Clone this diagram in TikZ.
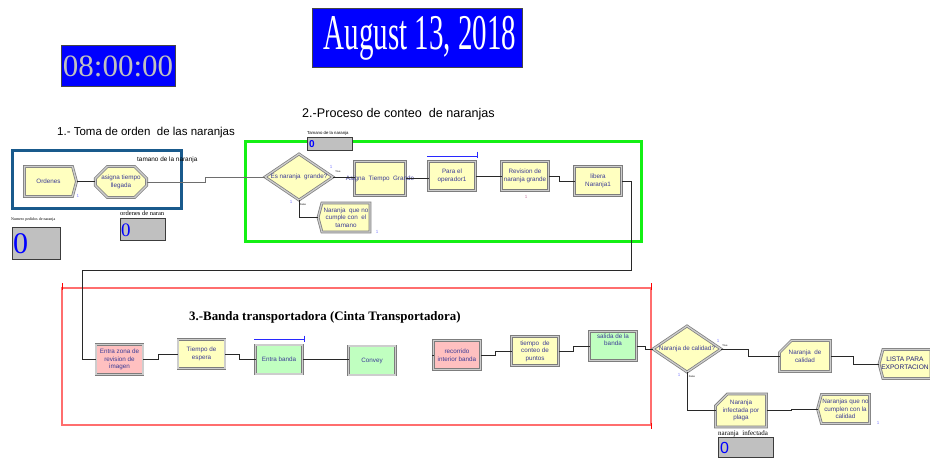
\documentclass[tikz,border=0pt]{standalone}
\usepackage{fontspec}
\setmainfont{Liberation Sans}
\newfontfamily\serifF{Liberation Serif}
\usetikzlibrary{shapes.geometric,shapes.misc,shapes.symbols,calc}
\definecolor{modY}{RGB}{255,255,192}
\definecolor{modP}{RGB}{255,192,192}
\definecolor{modG}{RGB}{192,255,192}
\definecolor{modT}{RGB}{60,60,150}
\definecolor{listaT}{RGB}{30,30,120}
\definecolor{modB}{RGB}{125,125,125}
\definecolor{modL}{RGB}{205,205,205}
\definecolor{mark}{RGB}{130,130,255}
\definecolor{markP}{RGB}{200,120,160}
\definecolor{frameB}{RGB}{25,90,140}
\definecolor{frameG}{RGB}{20,240,20}
\definecolor{frameR}{RGB}{255,110,110}
\definecolor{ctrF}{RGB}{192,192,192}
\definecolor{ctrD}{RGB}{60,60,60}
\definecolor{boxD}{RGB}{70,70,70}
\definecolor{clockT}{RGB}{192,192,192}
\definecolor{connC}{RGB}{40,40,40}
\definecolor{connG}{RGB}{110,110,110}
\definecolor{resC}{RGB}{40,40,255}
\tikzset{
  mod/.style={draw=modB, double=modL, double distance=1.3pt, line width=0.75pt,
    inner sep=0pt, outer sep=0pt, font=\fontsize{6.3}{7.6}\selectfont, text=modT, align=center},
  procbox/.style={mod, rectangle, minimum width=47pt, minimum height=29pt},
  octbox/.style={mod, chamfered rectangle, chamfered rectangle xsep=6pt,
    chamfered rectangle ysep=6pt, minimum width=47pt, minimum height=31pt},
  recbox/.style={mod, chamfered rectangle, chamfered rectangle corners=north west,
    chamfered rectangle xsep=6pt, chamfered rectangle ysep=6pt, minimum width=51pt, minimum height=31pt},
  createbox/.style={mod, signal, signal to=east, signal pointer angle=150, minimum width=52pt, minimum height=30pt},
  disposebox/.style={mod, signal, signal to=west, signal pointer angle=150, minimum width=52pt, minimum height=29pt},
  decbox/.style={mod, diamond, minimum width=68pt, minimum height=46pt},
  modlabel/.style={font=\fontsize{6.3}{7.6}\selectfont, text=modT, align=center, inner sep=0pt},
  conn/.style={draw=connC, line width=0.8pt},
  tiny/.style={font=\fontsize{3.2}{4}\selectfont, inner sep=0pt},
  mk/.style={font=\fontsize{4.5}{5}\selectfont, text=mark, inner sep=0pt},
  ctr/.style={draw=ctrD, fill=ctrF, line width=0.8pt, inner sep=0pt},
  resbar/.style={draw=resC, line width=1pt},
}
\begin{document}
\begin{tikzpicture}[x=1pt,y=-1pt]
\useasboundingbox (0,0) rectangle (930,459);
\fill[white] (0,0) rectangle (930,459);

% clock and date
\node[draw=boxD, fill=blue, minimum width=114pt, minimum height=41pt, inner sep=0pt] (clock) at (118,65.5) {};
\node[text=clockT, font=\serifF\fontsize{31}{31}\selectfont, inner sep=0pt] (clockt) at (118,66) {08:00:00};
\node[draw=boxD, fill=blue, minimum width=210pt, minimum height=59pt, inner sep=0pt] (date) at (417,37.5) {};
\node[text=white, font=\serifF\fontsize{50}{50}\selectfont, inner sep=0pt] (datet) at (420,38) {\scalebox{0.58}[1]{August 13, 2018}};

% section titles
\node[anchor=west, font=\fontsize{11.5}{12}\selectfont, inner sep=0pt] (t1) at (57,133) {1.- Toma de orden\ \ de las naranjas};
\node[anchor=west, font=\fontsize{12.6}{13}\selectfont, inner sep=0pt] (t2) at (302,114) {2.-Proceso de conteo\ \ de naranjas};
\node[anchor=west, font=\serifF\bfseries\fontsize{12.9}{13}\selectfont, inner sep=0pt] (t3) at (189,317) {3.-Banda transportadora (Cinta Transportadora)};

% frames
\draw[frameB, line width=3pt] (12,150) rectangle (181,208);
\draw[frameG, line width=3pt] (245,141) rectangle (641,241);
\draw[frameR, line width=1.6pt] (62,288) rectangle (651,425);
\draw[red, line width=0.6pt] (62,283) -- (62,290) (651,283) -- (651,290) (651,423) -- (651,429);

% counters
\node[tiny, anchor=west, font=\serifF\fontsize{4.0}{5}\selectfont] (c1l) at (11,220) {Numero pedidos de naranja};
\node[ctr, minimum width=48pt, minimum height=32pt] (c1) at (36,243) {};
\node[anchor=west, text=blue, font=\serifF\fontsize{30}{30}\selectfont, inner sep=0pt] (c1z) at (13,244) {0};
\node[tiny, anchor=west, font=\serifF\fontsize{6.5}{7}\selectfont] (c2l) at (120,213) {ordenes de naran};
\node[ctr, minimum width=45pt, minimum height=22pt] (c2) at (143,229) {};
\node[anchor=west, text=blue, font=\serifF\fontsize{19}{19}\selectfont, inner sep=0pt] (c2z) at (121,230) {0};
\node[tiny, anchor=west, font=\fontsize{4.3}{5}\selectfont] (c3l) at (307,133.5) {Tamano de la naranja};
\node[ctr, minimum width=45pt, minimum height=13pt] (c3) at (330,143.5) {};
\node[anchor=west, text=blue, font=\bfseries\fontsize{10}{10}\selectfont, inner sep=0pt] (c3z) at (309,144) {0};
\node[tiny, anchor=west, font=\serifF\fontsize{7}{8}\selectfont] (c4l) at (718,434) {naranja\ \ infectada};
\node[ctr, minimum width=55pt, minimum height=20pt] (c4) at (745.5,447) {};
\node[anchor=west, text=blue, font=\fontsize{16}{16}\selectfont, inner sep=0pt] (c4z) at (720,448) {0};
\node[anchor=west, font=\fontsize{6.4}{7}\selectfont, inner sep=0pt] (tl) at (137,160) {tamano de la naranja};

% section 1
\node[createbox, fill=modY] (ordenes) at (48.5,181.5) {Ordenes};
\node[octbox, fill=modY] (asigna) at (121,182) {asigna tiempo\\llegada};

% section 2
\node[decbox, fill=modY] (d1) at (299,177) {};
\node[modlabel] (d1t) at (299,177) {Es naranja\ \ grande?};
\node[octbox, fill=modY, minimum width=51pt, minimum height=34pt] (atg) at (380,178.5) {};
\node[modlabel] (atgt) at (380,178.5) {Asigna\ \ Tiempo\ \ Grande};
\node[procbox, fill=modY] (para) at (452,176) {Para el\\operador1};
\node[procbox, fill=modY] (revision) at (525,176) {Revision de\\naranja grande};
\node[procbox, fill=modY] (libera) at (598,181) {libera\\Naranja1};
\node[disposebox, fill=modY] (nocumple) at (346,217.5) {Naranja\ \ que no\\cumple con\ \ el\\tamano};

% section 3
\node[procbox, fill=modP, minimum height=30pt] (entrazona) at (119.5,359.5) {Entra zona de\\revision de\\imagen};
\node[procbox, fill=modY] (espera) at (201.5,354) {Tiempo de\\espera};
\node[procbox, fill=modG] (entrabanda) at (279,359.5) {Entra banda};
\node[procbox, fill=modG] (convey) at (372,360.5) {Convey};
\node[procbox, fill=modP] (recorrido) at (457,355) {recorrido\\interior banda};
\node[procbox, fill=modY] (conteo) at (535,351) {tiempo\ \ de\\conteo de\\puntos};
\node[procbox, fill=modG] (salida) at (613,346) {salida de la\\banda\\[5pt]};
\node[decbox, fill=modY] (d2) at (687,349) {};
\node[modlabel] (d2t) at (687,349) {Naranja de calidad?};
\node[recbox, fill=modY] (calidad) at (805,356) {Naranja\ \ de\\calidad};
\node[disposebox, fill=modY] (lista) at (907,364) {};
\node[modlabel, text=listaT, font=\fontsize{6.6}{7.6}\selectfont] (listat) at (905,363) {LISTA PARA\\EXPORTACION};
\node[recbox, fill=modY, minimum height=32pt] (infectada) at (741,410.5) {Naranja\\infectada por\\plaga};
\node[disposebox, fill=modY] (nocal) at (845.5,409) {Naranjas que no\\cumplen con la\\calidad};

% resource bars
\coordinate (rb1a) at (427,156.5);
\coordinate (rb1b) at (477,156.5);
\draw[resbar] (rb1a) -- (rb1b);
\draw[resbar] ($(rb1b)+(0,-5)$) -- ($(rb1b)+(0,1)$);
\coordinate (rb2a) at (254,339.5);
\coordinate (rb2b) at (304,339.5);
\draw[resbar] (rb2a) -- (rb2b);
\draw[resbar] ($(rb2b)+(0,-4)$) -- ($(rb2b)+(0,2)$);

% connectors
\draw[conn] (ordenes.east) -- (ordenes.east -| asigna.west);
\draw[conn, draw=connG] (asigna.east) -- ++(59,0) |- (d1.west);
\draw[conn] (d1.east) -- (d1.east -| atg.west);
\draw[conn] (atg.east) -- (atg.east -| para.west);
\draw[conn] (para.east) -- (para.east -| revision.west);
\draw[conn] (revision.east) -- ++(11,0) |- (libera.west);
\coordinate (turnA) at (82,270);
\draw[conn] (libera.east) -- ++(10,0) |- (turnA) |- (entrazona.west);
\draw[conn] (d1.south) |- (nocumple.west);
\draw[conn] (entrazona.east) -- ++(15,0) |- (espera.west);
\draw[conn] (espera.east) -- ++(14,0) |- (entrabanda.west);
\draw[conn] (entrabanda.east) -- (entrabanda.east -| convey.west);
\draw[conn] (recorrido.west) -- ++(-2,0);
\draw[conn] (recorrido.east) -- ++(15,0) |- (conteo.west);
\draw[conn] (conteo.east) -- ++(15,0) |- (salida.west);
\draw[conn] (salida.east) -- ++(9,0) |- (d2.west);
\draw[conn] (d2.east) -- ++(27,0) |- (calidad.west);
\draw[conn] (calidad.east) -- ++(23,0) |- (lista.west);
\draw[conn] (d2.south) |- (infectada.west);
\draw[conn] (infectada.east) -- ++(25,0) |- (nocal.west);

% small marks
\node[mk] (m1) at (78,196) {1};
\node[mk] (m2) at (331,167) {1};
\node[tiny, font=\fontsize{2.5}{3}\selectfont] (m2t) at (338,172) {True};
\node[mk] (m3) at (291,202) {1};
\node[tiny, font=\fontsize{2.5}{3}\selectfont] (m3t) at (303,205) {False};
\node[mk] (m4) at (377,232) {1};
\node[mk, text=markP] (m5) at (526,197) {1};
\node[mk] (m6) at (718,341) {1};
\node[tiny, font=\fontsize{2.5}{3}\selectfont] (m6t) at (725,346) {True};
\node[mk] (m7) at (679,375) {1};
\node[tiny, font=\fontsize{2.5}{3}\selectfont] (m7t) at (692,377) {False};
\node[mk] (m8) at (878,423) {1};
\end{tikzpicture}
\end{document}
